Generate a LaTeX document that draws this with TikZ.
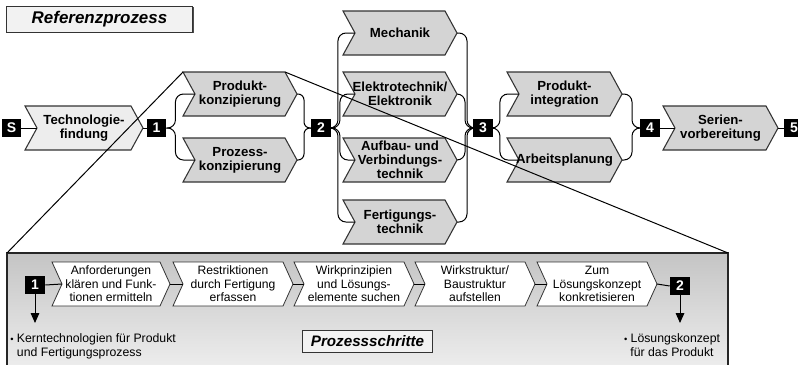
\documentclass[tikz,border=0pt]{standalone}
\usepackage{fontspec}
\setmainfont{Liberation Sans}
\usetikzlibrary{arrows.meta,shadows}

% chevron: name, left x, top y, width, notch depth, shape style, label style, text
\newcommand\chevron[8]{%
  \path[#6] (#2,#3) -- ({#2+#4-#5},#3) -- ({#2+#4},{#3+22}) -- ({#2+#4-#5},{#3+44})
            -- (#2,{#3+44}) -- ({#2+#5},{#3+22}) -- cycle;
  \coordinate (#1-nw) at (#2,#3);
  \coordinate (#1-ne) at ({#2+#4-#5},#3);
  \coordinate (#1-in) at ({#2+#5},{#3+22});
  \coordinate (#1-out) at ({#2+#4},{#3+22});
  \node[#7] (#1) at ({#2+#4/2},{#3+22}) {#8};}

\begin{document}
\begin{tikzpicture}[x=0.75pt,y=-0.75pt,
  conn/.style={draw=black, line width=0.75pt},
  curvy/.style={conn, rounded corners=6pt},
  tight/.style={conn, rounded corners=4.5pt},
  numbox/.style={fill=black, text=white, font=\fontsize{10.5}{10.5}\selectfont\bfseries,
    minimum width=14.5pt, minimum height=13pt, inner sep=0pt},
  stagelabel/.style={align=center, font=\fontsize{9.9}{10.5}\selectfont\bfseries, inner sep=0pt},
  steplabel/.style={align=center, font=\fontsize{9.1}{10.1}\selectfont, inner sep=0pt},
  notelabel/.style={font=\fontsize{9.2}{10.4}\selectfont, inner sep=0pt},
  chevdark/.style={fill=black!17, draw=black!80, line width=0.8pt},
  chevlight/.style={fill=black!7, draw=black!80, line width=0.8pt},
  chevwhite/.style={fill=white, draw=black!80, line width=0.6pt},
  titlebox/.style={fill=black!5, draw=black!80, line width=0.7pt,
    drop shadow={shadow xshift=0.8pt, shadow yshift=-0.8pt, fill=black!70, opacity=1},
    font=\bfseries\itshape, inner sep=0pt},
]
\useasboundingbox (0,0) rectangle (798,364);

% detail panel with the process steps
\coordinate (panel-nw) at (7,253);
\coordinate (panel-ne) at (728,253);
\fill[top color=black!23, bottom color=black!7] (7,253) rectangle (728,368);
\draw[line width=0.8pt, draw=black!85] (7,368) -- (panel-nw) -- (panel-ne) -- (728,368);

% title
\node[titlebox, minimum width=140pt, minimum height=19.5pt,
      font=\fontsize{12.7}{13}\selectfont\bfseries\itshape] (title) at (99.5,19) {Referenzprozess};

% top-level process chain
\chevron{tf}{25}{106}{118}{12}{chevlight}{stagelabel}{Technologie-\\findung}
\chevron{pk}{183}{72}{114}{12}{chevdark}{stagelabel}{Produkt-\\konzipierung}
\chevron{pz}{183}{138}{114}{12}{chevdark}{stagelabel}{Prozess-\\konzipierung}
\chevron{me}{343}{11}{114}{12}{chevdark}{stagelabel}{Mechanik}
\chevron{el}{343}{72}{114}{12}{chevdark}{stagelabel}{Elektrotechnik/\\Elektronik}
\chevron{av}{343}{138}{114}{12}{chevdark}{stagelabel}{Aufbau- und\\Verbindungs-\\technik}
\chevron{ft}{343}{200}{114}{12}{chevdark}{stagelabel}{Fertigungs-\\technik}
\chevron{pi}{507}{72}{115}{12}{chevdark}{stagelabel}{Produkt-\\integration}
\chevron{ap}{507}{138}{115}{12}{chevdark}{stagelabel}{Arbeitsplanung}
\chevron{sv}{663}{106}{115}{12}{chevdark}{stagelabel}{Serien-\\vorbereitung}

\node[numbox] (nS) at (11.5,128) {S};
\node[numbox] (n1) at (156.5,128) {1};
\node[numbox] (n2) at (321,128) {2};
\node[numbox] (n3) at (483,128) {3};
\node[numbox] (n4) at (650,128) {4};
\node[numbox] (n5) at (794,128) {5};

\draw[conn] (nS.east) -- (tf-in);
\draw[conn] (tf-out) -- (n1.west);
\draw[curvy] (n1.east) -- ++(9,0) |- (pk-in);
\draw[curvy] (n1.east) -- ++(9,0) |- (pz-in);
\draw[tight] (pk-out) -- ++(7,0) |- (n2.west);
\draw[tight] (pz-out) -- ++(7,0) |- (n2.west);
\draw[curvy] (n2.east) -- ++(7,0) |- (me-in);
\draw[curvy] (n2.east) -- ++(9,0) |- (el-in);
\draw[curvy] (n2.east) -- ++(9,0) |- (av-in);
\draw[curvy] (n2.east) -- ++(7,0) |- (ft-in);
\draw[curvy] (me-out) -- ++(10,0) |- (n3.west);
\draw[curvy] (el-out) -- ++(8,0) |- (n3.west);
\draw[curvy] (av-out) -- ++(8,0) |- (n3.west);
\draw[curvy] (ft-out) -- ++(10,0) |- (n3.west);
\draw[curvy] (n3.east) -- ++(7,0) |- (pi-in);
\draw[curvy] (n3.east) -- ++(7,0) |- (ap-in);
\draw[curvy] (pi-out) -- ++(10,0) |- (n4.west);
\draw[curvy] (ap-out) -- ++(10,0) |- (n4.west);
\draw[conn] (n4.east) -- (sv-in);
\draw[conn] (sv-out) -- (n5.west);

% zoom lines from the concept stage to the panel
\draw[conn] (pk-nw) -- (panel-nw);
\draw[conn] (pk-ne) -- (panel-ne);

% process steps inside the panel
\chevron{s1}{52}{262}{118}{10}{chevwhite}{steplabel}{Anforderungen\\klären und Funk-\\tionen ermitteln}
\chevron{s2}{173}{262}{120}{10}{chevwhite}{steplabel}{Restriktionen\\durch Fertigung\\erfassen}
\chevron{s3}{294}{262}{120}{10}{chevwhite}{steplabel}{Wirkprinzipien\\und Lösungs-\\elemente suchen}
\chevron{s4}{415}{262}{120}{10}{chevwhite}{steplabel}{Wirkstruktur/\\Baustruktur\\aufstellen}
\chevron{s5}{537}{262}{120}{10}{chevwhite}{steplabel}{Zum\\Lösungskonzept\\konkretisieren}

\node[numbox, minimum width=15pt, minimum height=13pt] (b1) at (35,285) {1};
\node[numbox, minimum width=15pt, minimum height=13pt] (b2) at (680,286) {2};

\draw[conn] (b1.east) -- (s1-in);
\draw[conn] (s1-out) -- (s2-in);
\draw[conn] (s2-out) -- (s3-in);
\draw[conn] (s3-out) -- (s4-in);
\draw[conn] (s4-out) -- (s5-in);
\draw[conn] (s5-out) -- (b2.west);

\coordinate (r1) at (35,323);
\coordinate (r2) at (680,323);
\draw[conn, -{Triangle[width=6.5pt,length=7.5pt]}] (b1.south) -- (r1);
\draw[conn, -{Triangle[width=6.5pt,length=7.5pt]}] (b2.south) -- (r2);

\node[notelabel, anchor=north west, align=left] (kern) at (10,333)
  {{\scriptsize\textbullet}\ Kerntechnologien für Produkt\\\phantom{{\scriptsize\textbullet}\ }und Fertigungsprozess};
\node[notelabel, anchor=north, align=center] (loes) at (672,333)
  {{\scriptsize\textbullet}\ Lösungskonzept\\für das Produkt};

\node[titlebox, minimum width=97pt, minimum height=16.5pt,
      font=\fontsize{11.4}{12}\selectfont\bfseries\itshape] (steps) at (367.5,341) {Prozessschritte};
\end{tikzpicture}
\end{document}
